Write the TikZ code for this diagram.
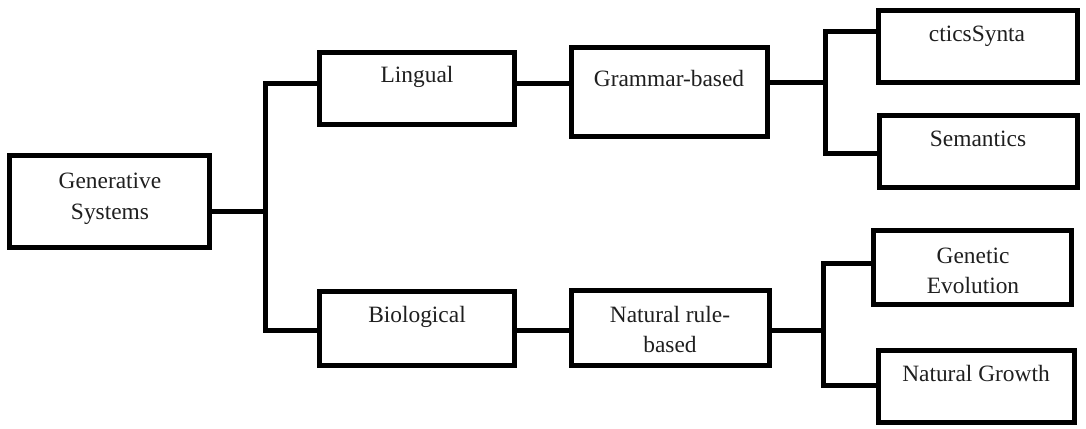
\documentclass[tikz,border=0pt]{standalone}
\usepackage{fontspec}
\setmainfont{Liberation Serif}
\begin{document}
\begin{tikzpicture}[x=1pt,y=-1pt,
  box/.style={draw=black,line width=5pt,rectangle,inner sep=0pt,
    minimum width=#1},
  box/.default=197pt,
  lbl/.style={anchor=base,align=center,text=black!88,inner sep=0pt,
    font=\fontsize{23.4}{31}\selectfont},
  link/.style={draw=black,line width=5pt}]
\useasboundingbox (0,0) rectangle (1086,428);
\fill[white] (0,0) rectangle (1086,428);

% boxes
\node[box=200pt,minimum height=92pt] (gen) at (109.5,201) {};
\node[box=195pt,minimum height=72pt] (lin) at (417,88.5) {};
\node[box=196pt,minimum height=88pt] (gram) at (669.5,92) {};
\node[box=199pt,minimum height=72pt] (syn) at (978,46.5) {};
\node[box=198pt,minimum height=72pt] (sem) at (978.5,151.5) {};
\node[box=195pt,minimum height=74pt] (bio) at (417,328) {};
\node[box=198pt,minimum height=75pt] (nat) at (670,328) {};
\node[box=198pt,minimum height=74pt] (gev) at (972.5,267.5) {};
\node[box=196pt,minimum height=72pt] (ngr) at (976.5,386.5) {};

% labels (base anchor sits on the last line of a two-line label)
\node[lbl] (gen-t) at (110,219) {Generative\\Systems};
\node[lbl] (lin-t) at (417,82) {Lingual};
\node[lbl] (gram-t) at (669,86.7) {Grammar-based};
\node[lbl] (syn-t) at (977,41.7) {cticsSynta};
\node[lbl] (sem-t) at (978,146) {Semantics};
\node[lbl] (bio-t) at (417,322.7) {Biological};
\node[lbl, font=\fontsize{23.4}{30}\selectfont] (nat-t) at (670,352.7) {Natural rule-\\based};
\node[lbl, font=\fontsize{23.4}{30}\selectfont] (gev-t) at (973,293.3) {Genetic\\Evolution};
\node[lbl] (ngr-t) at (976,381.7) {Natural Growth};

% junction points
\coordinate (j0) at (265,211);
\coordinate (j1) at (265,83);
\coordinate (j2) at (265,330);
\coordinate (k0) at (825,82);
\coordinate (k1) at (825,32);
\coordinate (k2) at (825,153);
\coordinate (m0) at (823,330);
\coordinate (m1) at (823,263);
\coordinate (m2) at (823,385);

% connectors
\draw[link] (gen.east |- j0) -- (j0);
\draw[link] (lin.west |- j1) -- (j1) -- (j2) -- (bio.west |- j2);
\draw[link] (lin.east |- j1) -- (gram.west |- j1);
\draw[link] (bio.east |- j2) -- (nat.west |- j2);
\draw[link] (gram.east |- k0) -- (k0);
\draw[link] (syn.west |- k1) -- (k1) -- (k2) -- (sem.west |- k2);
\draw[link] (nat.east |- m0) -- (m0);
\draw[link] (gev.west |- m1) -- (m1) -- (m2) -- (ngr.west |- m2);
\end{tikzpicture}
\end{document}
